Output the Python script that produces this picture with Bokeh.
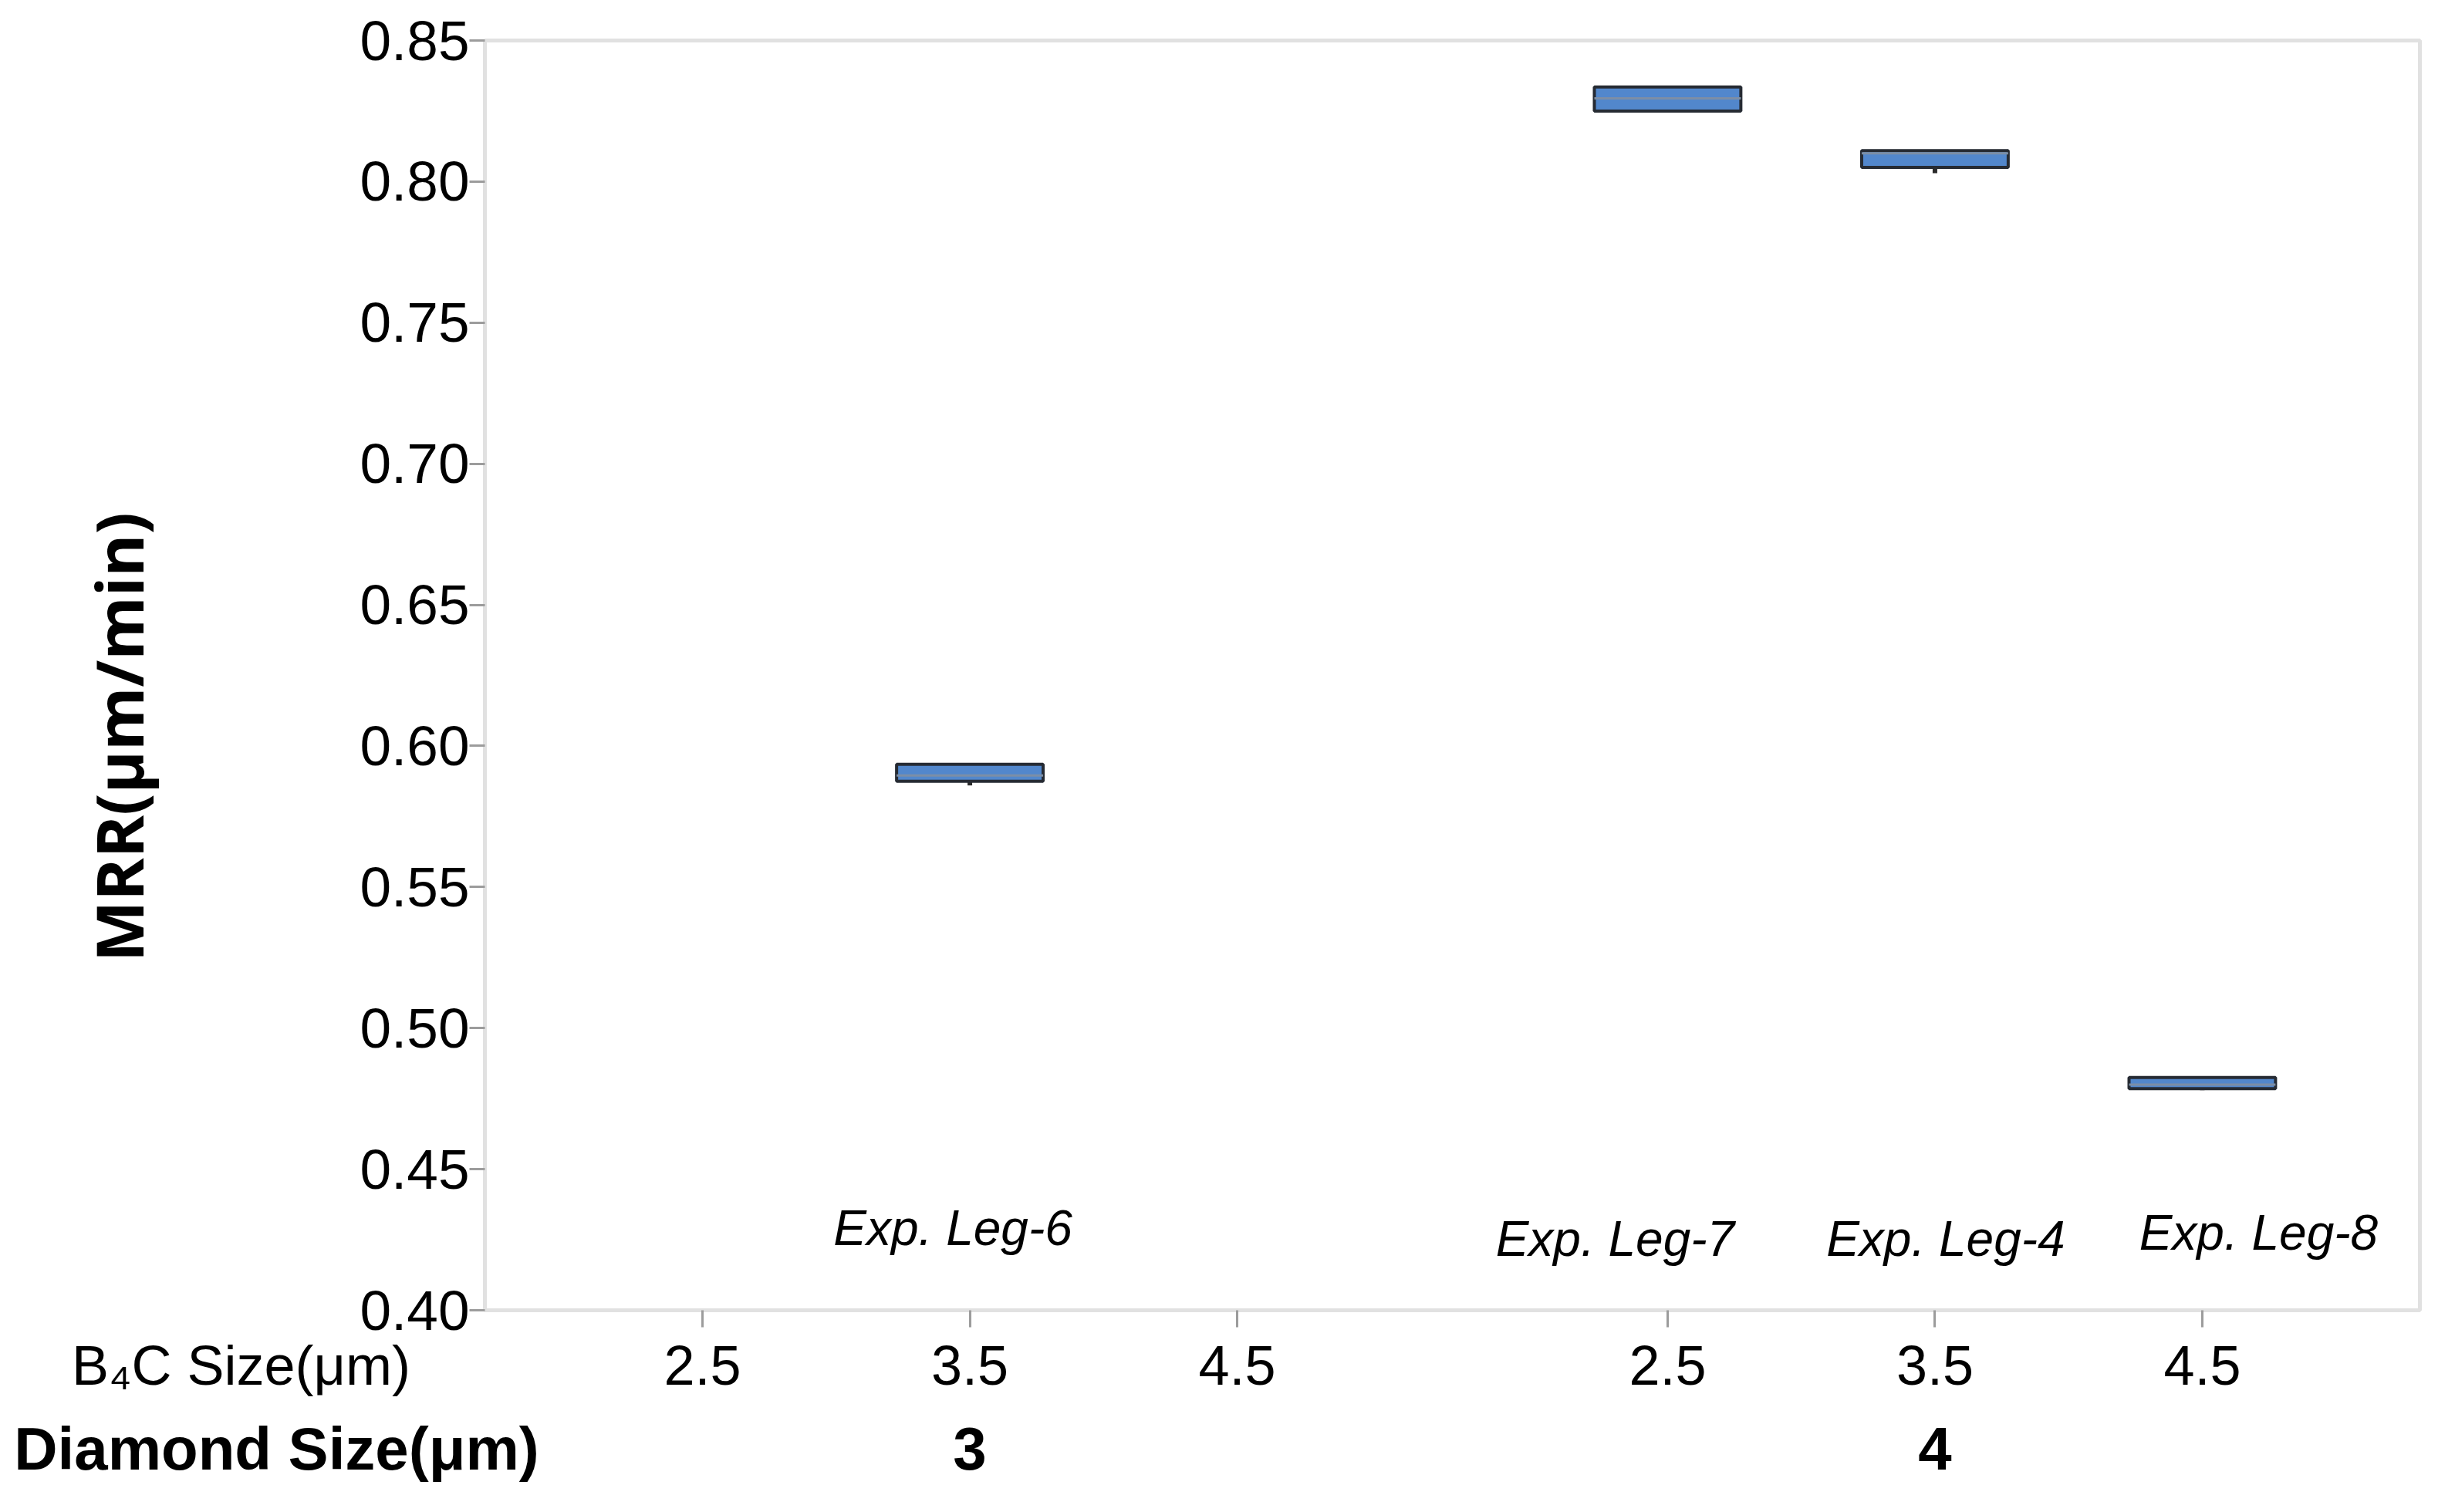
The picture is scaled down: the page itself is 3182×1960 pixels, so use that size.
import numpy as np
from bokeh.plotting import figure
from bokeh.models import (ColumnDataSource, FixedTicker, LinearAxis, AllLabels,
                          Range1d, NumeralTickFormatter, BoxAnnotation)
from bokeh.core.properties import value
from bokeh.embed import file_html
from bokeh.resources import INLINE

# ---------------- data ----------------
diamond_sizes = ["3", "4"]
b4c_sizes = ["2.5", "3.5", "4.5"]
b4c_title = "B₄C Size(μm)"
diamond_title = "Diamond Size(μm)"
y_title = "MRR(μm/min)"

exp_names = ["Exp. Leg-6", "Exp. Leg-7", "Exp. Leg-4", "Exp. Leg-8"]
exp_diamond = ["3", "4", "4", "4"]
exp_b4c = ["3.5", "2.5", "3.5", "4.5"]
mrr_lower = [0.5860, 0.8250, 0.8030, 0.4780]
mrr_q1 = [0.5875, 0.8250, 0.8050, 0.4785]
mrr_median = [0.5895, 0.8295, 0.8100, 0.4800]
mrr_q3 = [0.5935, 0.8335, 0.8110, 0.4825]
mrr_upper = [0.5935, 0.8335, 0.8110, 0.4825]
label_y = [0.4290, 0.4254, 0.4254, 0.4276]

y_ticks = [0.40, 0.45, 0.50, 0.55, 0.60, 0.65, 0.70, 0.75, 0.80, 0.85]
Y_MIN, Y_MAX = 0.40, 0.85

# ---------------- layout ----------------
W, H = 3160, 1940
BOX_L, BOX_R, BOX_T, BOX_B = 628, 3136, 52, 1698   # visible frame box (canvas px)
FRAME_L, FRAME_R, FRAME_T, FRAME_B = 14, 3140, 6, 1936
GROUP_STEP = 3.61
BOX_W = 0.548
GRAY = "#9c9c9c"
XBOX0, XBOX1 = 0.186, 7.424          # data x at the box's left / right edge
xpx = (BOX_R - BOX_L) / (XBOX1 - XBOX0)
ypx = (BOX_B - BOX_T) / (Y_MAX - Y_MIN)
x_start = XBOX0 - (BOX_L - FRAME_L) / xpx
x_end = XBOX1 + (FRAME_R - BOX_R) / xpx
y_start = Y_MIN - (FRAME_B - BOX_B) / ypx
y_end = Y_MAX + (BOX_T - FRAME_T) / ypx
YTITLE_SHIFT = 160 / ypx             # moves the y title down (via axis bounds)


def xdata(px):
    return XBOX0 + (px - BOX_L) / xpx


B4C_TITLE_X = xdata(312)
DIAMOND_TITLE_X = xdata(358)


def xpos(d, b):
    return diamond_sizes.index(d) * GROUP_STEP + b4c_sizes.index(b) + 1.0


tick_x, tick_lab = [], []
for d in diamond_sizes:
    for b in b4c_sizes:
        tick_x.append(xpos(d, b))
        tick_lab.append(b)
group_x = [xpos(d, b4c_sizes[1]) for d in diamond_sizes]

ex = np.array([xpos(d, b) for d, b in zip(exp_diamond, exp_b4c)])
label_dx = [-22, -68, 14, 73]

src = ColumnDataSource(dict(
    x=ex, left=ex - BOX_W / 2, right=ex + BOX_W / 2,
    lower=mrr_lower, q1=mrr_q1, med=mrr_median, q3=mrr_q3, upper=mrr_upper,
    name=exp_names, ly=label_y, dx=label_dx,
))

p = figure(width=W, height=H,
           x_range=Range1d(x_start, x_end), y_range=Range1d(y_start, y_end),
           output_backend="svg", toolbar_location=None,
           min_border_left=FRAME_L, min_border_right=W - FRAME_R,
           min_border_top=FRAME_T, min_border_bottom=H - FRAME_B,
           background_fill_color="white", border_fill_color="white")
p.grid.visible = False
p.outline_line_color = None

# visible frame box
p.add_layout(BoxAnnotation(left=XBOX0, right=XBOX1, bottom=Y_MIN, top=Y_MAX,
                           fill_color=None, line_color=GRAY, line_width=5))

# y axis, drawn at the box's left edge (its line is the box's left side)
ya = p.yaxis[0]
ya.fixed_location = XBOX0
ya.bounds = (Y_MIN - YTITLE_SHIFT, Y_MAX)
ya.ticker = FixedTicker(ticks=y_ticks)
ya.formatter = NumeralTickFormatter(format="0.00")
ya.major_label_text_font = "Liberation Sans"
ya.major_label_text_font_size = "73px"
ya.major_label_text_color = "black"
ya.major_tick_in = 0
ya.major_tick_out = 20
ya.major_label_standoff = 0
ya.minor_tick_line_color = None
ya.axis_line_color = None
ya.major_tick_line_color = GRAY
ya.major_tick_line_width = 3
ya.axis_label = y_title
ya.axis_label_text_font = "Open Sans"
ya.axis_label_text_font_style = "bold"
ya.axis_label_text_font_size = "84px"
ya.axis_label_text_color = "black"
ya.axis_label_standoff = 252

# x axis (B4C size), row title as an unticked label
xa = p.xaxis[0]
xa.fixed_location = Y_MIN
xa.ticker = FixedTicker(ticks=[B4C_TITLE_X] + tick_x, minor_ticks=tick_x)
xa.major_label_overrides = {t: l for t, l in zip([B4C_TITLE_X] + tick_x,
                                                 [b4c_title] + tick_lab)}
xa.major_label_policy = AllLabels()
xa.major_label_text_font = "Liberation Sans"
xa.major_label_text_font_size = "72px"
xa.major_label_text_color = "black"
xa.major_tick_line_color = None
xa.major_tick_in = 0
xa.major_tick_out = 22
xa.minor_tick_in = 0
xa.minor_tick_out = 22
xa.minor_tick_line_color = GRAY
xa.minor_tick_line_width = 3
xa.major_label_standoff = 9
xa.axis_line_color = None

# second x axis (Diamond size), same location, labels one row lower
xa2 = LinearAxis(fixed_location=Y_MIN,
                 ticker=FixedTicker(ticks=[DIAMOND_TITLE_X] + group_x, minor_ticks=[]),
                 major_label_overrides={t: d for t, d in zip([DIAMOND_TITLE_X] + group_x,
                                                            [diamond_title] + diamond_sizes)},
                 major_label_policy=AllLabels(),
                 axis_line_color=None, major_tick_line_color=None,
                 minor_tick_line_color=None, major_tick_in=0, major_tick_out=0,
                 major_label_standoff=135,
                 major_label_text_font="Liberation Sans",
                 major_label_text_font_style="bold",
                 major_label_text_font_size="78px",
                 major_label_text_color="black")
p.add_layout(xa2, "below")

# boxes
p.segment(x0="x", y0="q1", x1="x", y1="lower", source=src,
          line_color="#2a2a2a", line_width=6)
p.segment(x0="x", y0="q3", x1="x", y1="upper", source=src,
          line_color="#2a2a2a", line_width=6)
p.quad(left="left", right="right", bottom="q1", top="q3", source=src,
       fill_color="#5287cc", line_color="#262b33", line_width=4)
p.segment(x0="left", y0="med", x1="right", y1="med", source=src,
          line_color="#7c8ea6", line_width=3)

# experiment labels
p.text(x="x", y="ly", text="name", x_offset="dx", source=src,
       text_font=value("Liberation Sans"), text_font_style="italic",
       text_font_size="64px", text_align="center", text_baseline="middle",
       text_color="black")

open("out.html", "w").write(file_html(p, INLINE))
